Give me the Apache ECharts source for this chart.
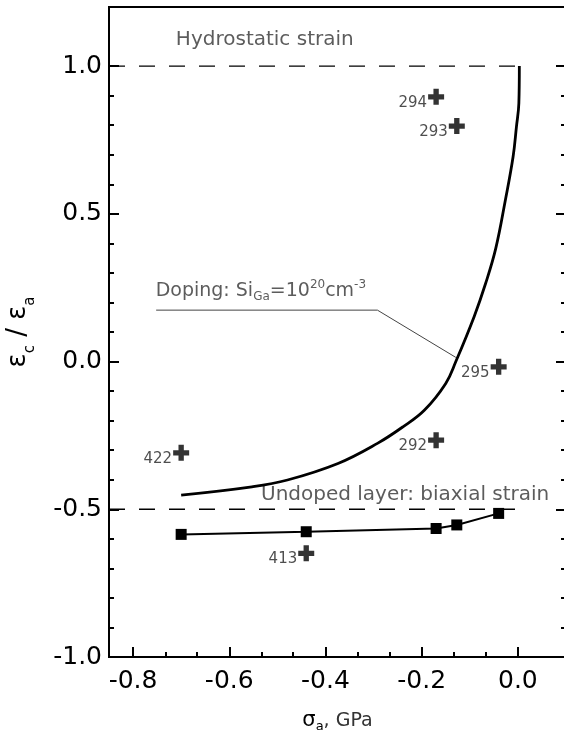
<!DOCTYPE html>
<html>
<head>
<meta charset="utf-8">
<script src="https://cdn.jsdelivr.net/npm/echarts@6/dist/echarts.min.js"></script>
<style>
  html, body { margin: 0; padding: 0; background: #fff; }
  #chart { width: 564px; height: 738px; }
</style>
</head>
<body>
<div id="chart"></div>
<script>
// Tick positions
const xMajorTicks = [-0.8, -0.6, -0.4, -0.2, 0.0];
const xMinorTicks = [-0.733, -0.667, -0.533, -0.467, -0.333, -0.267, -0.133, -0.067];
const yMajorTicks = [-1.0, -0.5, 0.0, 0.5, 1.0];
const yMinorTicks = [-0.9, -0.8, -0.7, -0.6, -0.4, -0.3, -0.2, -0.1,
                     0.1, 0.2, 0.3, 0.4, 0.6, 0.7, 0.8, 0.9];

// Doped layer, Si_Ga = 1e20 cm^-3 (calculated curve)
const dopedSigma = [-0.70, -0.553, -0.479, -0.374, -0.292, -0.239, -0.194, -0.150,
                    -0.129, -0.091, -0.067, -0.046, -0.026, -0.010, -0.003, 0.002, 0.003];
const dopedRatio = [-0.452, -0.424, -0.401, -0.345, -0.277, -0.221, -0.164, -0.074,
                    0.0, 0.152, 0.265, 0.383, 0.547, 0.693, 0.795, 0.874, 1.0];

// Undoped layer (measured, squares)
const undopedSigma = [-0.70, -0.44, -0.17, -0.127, -0.04];
const undopedRatio = [-0.585, -0.576, -0.565, -0.553, -0.514];

// Doped samples (crosses)
const sampleNames = ['294', '293', '295', '292', '422', '413'];
const sampleSigma = [-0.17, -0.127, -0.04, -0.17, -0.70, -0.44];
const sampleRatio = [0.896, 0.797, -0.018, -0.266, -0.309, -0.649];

// Limiting cases
const hydrostaticSigma = [-0.85, 0.0];
const hydrostaticRatio = [1.0, 1.0];
const biaxialSigma = [-0.85, 0.0];
const biaxialRatio = [-0.5, -0.5];

// Leader from the doping caption to the curve
const leaderSigma = [-0.752, -0.292, -0.129];
const leaderRatio = [0.174, 0.174, 0.014];

// Caption texts
const hydrostaticText = 'Hydrostatic strain';
const biaxialText = 'Undoped layer: biaxial strain';
const dopingText = '{t|Doping: Si}{sub|Ga}{t|=10}{sup|20}{t|cm}{sup|-3}';

const zip = (xs, ys) => xs.map((x, i) => [x, ys[i]]);

const FONT = 'DejaVu Sans';
const INK = '#000';
const TEXT = '#222';
const plus = 'path://M5,0H10V5H15V10H10V15H5V10H0V5H5Z';

const xBase = { type: 'value', min: -0.85, max: 0.1, position: 'bottom', splitLine: { show: false } };
const yBase = { type: 'value', min: -1.0, max: 1.2, splitLine: { show: false } };

const chart = echarts.init(document.getElementById('chart'), null, { renderer: 'canvas' });

chart.setOption({
  animation: false,
  backgroundColor: '#fff',
  grid: {
    left: 109, top: 7, right: -2, bottom: 81,
    containLabel: false, outerBoundsMode: 'none',
    show: true, borderColor: INK, borderWidth: 2, backgroundColor: 'transparent'
  },
  xAxis: [
    Object.assign({}, xBase, {
      axisLine: { show: true, onZero: false, lineStyle: { color: INK, width: 2 } },
      axisTick: { show: true, inside: true, length: 10, customValues: xMajorTicks,
                  lineStyle: { color: INK, width: 2 } },
      axisLabel: { show: true, customValues: xMajorTicks, formatter: v => v.toFixed(1),
                   fontFamily: FONT, fontSize: 25, color: INK, margin: 12 },
      name: '{s|σ}{sub|a}{u|, GPa}',
      nameLocation: 'middle',
      nameGap: 52,
      nameTextStyle: {
        rich: {
          s: { fontFamily: FONT, fontSize: 21, color: INK, lineHeight: 24, verticalAlign: 'middle' },
          sub: { fontFamily: FONT, fontSize: 13, color: INK, lineHeight: 12, verticalAlign: 'bottom' },
          u: { fontFamily: FONT, fontSize: 19, color: '#333', lineHeight: 24, verticalAlign: 'middle' }
        }
      }
    }),
    Object.assign({}, xBase, {
      axisLine: { show: false, onZero: false },
      axisTick: { show: true, inside: true, length: 5, customValues: xMinorTicks,
                  lineStyle: { color: INK, width: 2 } },
      axisLabel: { show: false }
    })
  ],
  yAxis: [
    Object.assign({}, yBase, {
      position: 'left',
      axisLine: { show: true, onZero: false, lineStyle: { color: INK, width: 2 } },
      axisTick: { show: true, inside: true, length: 10, customValues: yMajorTicks,
                  lineStyle: { color: INK, width: 2 } },
      axisLabel: { show: true, customValues: yMajorTicks, formatter: v => v.toFixed(1),
                   fontFamily: FONT, fontSize: 25, color: INK, margin: 7 },
      name: '{e|ε}{sub|c}{e| / ε}{sub|a}',
      nameLocation: 'middle',
      nameGap: 71,
      nameTextStyle: {
        rich: {
          e: { fontFamily: FONT, fontSize: 26, color: INK, lineHeight: 40, verticalAlign: 'middle' },
          sub: { fontFamily: FONT, fontSize: 15, color: INK, lineHeight: 14, verticalAlign: 'bottom' }
        }
      }
    }),
    Object.assign({}, yBase, {
      position: 'left',
      axisLine: { show: false, onZero: false },
      axisTick: { show: true, inside: true, length: 5, customValues: yMinorTicks,
                  lineStyle: { color: INK, width: 2 } },
      axisLabel: { show: false }
    }),
    Object.assign({}, yBase, {
      position: 'right',
      axisLine: { show: false, onZero: false },
      axisTick: { show: true, inside: true, length: 10, customValues: yMajorTicks,
                  lineStyle: { color: INK, width: 2 } },
      axisLabel: { show: false }
    }),
    Object.assign({}, yBase, {
      position: 'right',
      axisLine: { show: false, onZero: false },
      axisTick: { show: true, inside: true, length: 5, customValues: yMinorTicks,
                  lineStyle: { color: INK, width: 2 } },
      axisLabel: { show: false }
    })
  ],
  series: [
    {
      name: 'Hydrostatic', type: 'line', data: zip(hydrostaticSigma, hydrostaticRatio),
      symbol: 'none', silent: true,
      lineStyle: { color: INK, width: 1.3, type: [16, 14] }
    },
    {
      name: 'Biaxial', type: 'line', data: zip(biaxialSigma, biaxialRatio),
      symbol: 'none', silent: true,
      lineStyle: { color: INK, width: 1.3, type: [16, 14] }
    },
    {
      name: 'Doped', type: 'line', data: zip(dopedSigma, dopedRatio),
      symbol: 'none', smooth: 0.4,
      lineStyle: { color: INK, width: 2.8 }
    },
    {
      name: 'Undoped', type: 'line', data: zip(undopedSigma, undopedRatio),
      symbol: 'rect', symbolSize: 11,
      itemStyle: { color: INK },
      lineStyle: { color: INK, width: 2 }
    },
    {
      name: 'Leader', type: 'line', data: zip(leaderSigma, leaderRatio),
      symbol: 'none', silent: true,
      lineStyle: { color: '#444', width: 1 }
    },
    {
      name: 'Samples', type: 'scatter',
      data: sampleNames.map((n, i) => ({ name: n, value: [sampleSigma[i], sampleRatio[i]] })),
      symbol: plus, symbolSize: 16,
      itemStyle: { color: INK },
      label: {
        show: true, position: 'left', distance: 1, offset: [0, 6],
        formatter: '{b}', fontFamily: FONT, fontSize: 15, color: TEXT
      }
    },
    {
      name: 'Captions', type: 'scatter', symbolSize: 0, silent: true,
      label: {
        show: true, position: 'right', distance: 0,
        fontFamily: FONT, fontSize: 20, color: '#333'
      },
      data: [
        { value: [-0.711, 1.088], label: { formatter: hydrostaticText } },
        { value: [-0.534, -0.45], label: { formatter: biaxialText } },
        {
          value: [-0.753, 0.239],
          label: {
            formatter: dopingText,
            rich: {
              t: { fontFamily: FONT, fontSize: 19, color: '#333', lineHeight: 24, verticalAlign: 'middle' },
              sub: { fontFamily: FONT, fontSize: 12, color: '#333', lineHeight: 11, verticalAlign: 'bottom' },
              sup: { fontFamily: FONT, fontSize: 12, color: '#333', lineHeight: 11, verticalAlign: 'top' }
            }
          }
        }
      ]
    }
  ]
});
</script>
</body>
</html>
